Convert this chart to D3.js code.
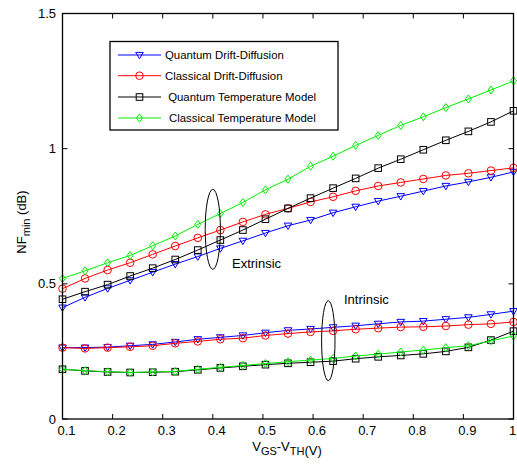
<!DOCTYPE html>
<html>
<head>
<meta charset="utf-8">
<script src="https://cdn.jsdelivr.net/npm/d3@7"></script>
<style>
  html, body { margin: 0; padding: 0; background: #fff; }
  svg { display: block; font-family: "Liberation Sans", Arial, sans-serif; }
</style>
</head>
<body>
<svg id="chart" width="517" height="465"></svg>
<script>
// Gate overdrive voltage (V), 21 bias points
const vov = d3.range(21).map(i => +(0.1 + i * 0.045).toFixed(3));

// Extrinsic minimum noise figure (dB)
const qddExt = [0.412, 0.450, 0.483, 0.513, 0.543, 0.573, 0.601, 0.631, 0.659, 0.688, 0.715,
                0.736, 0.763, 0.785, 0.806, 0.824, 0.843, 0.862, 0.877, 0.894, 0.914];
const cddExt = [0.482, 0.520, 0.551, 0.578, 0.609, 0.640, 0.670, 0.699, 0.729, 0.757, 0.779,
                0.803, 0.822, 0.844, 0.862, 0.875, 0.888, 0.901, 0.909, 0.919, 0.929];
const qtmExt = [0.443, 0.471, 0.497, 0.529, 0.558, 0.590, 0.625, 0.662, 0.699, 0.739, 0.779,
                0.817, 0.854, 0.890, 0.928, 0.961, 0.996, 1.031, 1.064, 1.099, 1.140];
const ctmExt = [0.520, 0.548, 0.578, 0.605, 0.641, 0.677, 0.720, 0.760, 0.801, 0.848, 0.887,
                0.935, 0.972, 1.012, 1.049, 1.086, 1.118, 1.152, 1.184, 1.217, 1.251];

// Intrinsic minimum noise figure (dB)
const qddInt = [0.264, 0.264, 0.266, 0.271, 0.276, 0.285, 0.295, 0.302, 0.309, 0.319, 0.328,
                0.333, 0.339, 0.345, 0.352, 0.359, 0.362, 0.369, 0.376, 0.387, 0.399];
const cddInt = [0.264, 0.261, 0.264, 0.267, 0.271, 0.280, 0.287, 0.295, 0.299, 0.309, 0.316,
                0.322, 0.326, 0.332, 0.336, 0.340, 0.341, 0.344, 0.349, 0.352, 0.359];
const qtmInt = [0.184, 0.178, 0.174, 0.172, 0.173, 0.175, 0.182, 0.189, 0.195, 0.201, 0.206,
                0.210, 0.214, 0.223, 0.230, 0.235, 0.241, 0.250, 0.265, 0.292, 0.325];
const ctmInt = [0.184, 0.179, 0.175, 0.172, 0.174, 0.176, 0.184, 0.191, 0.198, 0.205, 0.212,
                0.218, 0.224, 0.233, 0.240, 0.248, 0.255, 0.264, 0.271, 0.289, 0.307];

const seriesNames = ["Quantum Drift-Diffusion", "Classical Drift-Diffusion",
                     " Quantum Temperature Model", "Classical Temperature Model"];
const seriesColors = ["#0000ff", "#ff0000", "#000000", "#00ee00"];
const seriesSymbols = ["triangleDown", "circle", "square", "diamond"];

const xTicks = [0.1, 0.2, 0.3, 0.4, 0.5, 0.6, 0.7, 0.8, 0.9, 1];
const xTickLabels = ["0.1", "0.2", "0.3", "0.4", "0.5", "0.6", "0.7", "0.8", "0.9", "1"];
const yTicks = [0, 0.5, 1, 1.5];
const yTickLabels = ["0", "0.5", "1", "1.5"];

const svg = d3.select("#chart");
const m = { left: 62.5, right: 513.5, top: 13.5, bottom: 419 };
const x = d3.scaleLinear().domain([0.1, 1]).range([m.left, m.right]);
const y = d3.scaleLinear().domain([0, 1.5]).range([m.bottom, m.top]);

// Marker shapes
function marker(sel, kind, color) {
  if (kind === "circle") {
    sel.append("circle").attr("r", 3.8);
  } else if (kind === "square") {
    sel.append("rect").attr("x", -3.3).attr("y", -3.3).attr("width", 6.6).attr("height", 6.6);
  } else if (kind === "diamond") {
    sel.append("path").attr("d", "M0,-4 L3,0 L0,4 L-3,0 Z");
  } else {
    sel.append("path").attr("d", "M-3.8,-2.6 L3.8,-2.6 L0,3.8 Z");
  }
  sel.selectAll("*").attr("fill", "none").attr("stroke", color).attr("stroke-width", 1);
}

const line = d3.line().x((d, i) => x(vov[i])).y(d => y(d));
const groups = [
  [qddInt, cddInt, qtmInt, ctmInt],
  [qddExt, cddExt, qtmExt, ctmExt]
];

const plot = svg.append("g");
groups.forEach(set => {
  set.forEach((vals, k) => {
    const g = plot.append("g");
    g.append("path").attr("d", line(vals)).attr("fill", "none")
      .attr("stroke", seriesColors[k]).attr("stroke-width", 1);
    vals.forEach((v, i) => {
      const mk = g.append("g").attr("transform", `translate(${x(vov[i])},${y(v)})`);
      marker(mk, seriesSymbols[k], seriesColors[k]);
    });
  });
});

// Frame with inward ticks on all four sides
const axes = svg.append("g").attr("font-size", 13).attr("fill", "#000");
axes.append("rect").attr("x", m.left).attr("y", m.top)
  .attr("width", m.right - m.left).attr("height", m.bottom - m.top)
  .attr("fill", "none").attr("stroke", "#000").attr("stroke-width", 1.3);

const tl = 5;
xTicks.forEach((t, i) => {
  const px = x(t);
  axes.append("line").attr("x1", px).attr("x2", px).attr("y1", m.bottom).attr("y2", m.bottom - tl)
    .attr("stroke", "#000");
  axes.append("line").attr("x1", px).attr("x2", px).attr("y1", m.top).attr("y2", m.top + tl)
    .attr("stroke", "#000");
  // the last label is kept inside the figure edge
  const last = i === xTicks.length - 1;
  axes.append("text").attr("x", px).attr("dx", last ? -1 : 4).attr("y", m.bottom + 16)
    .attr("text-anchor", "middle").text(xTickLabels[i]);
});
yTicks.forEach((t, i) => {
  const py = y(t);
  axes.append("line").attr("x1", m.left).attr("x2", m.left + tl).attr("y1", py).attr("y2", py)
    .attr("stroke", "#000");
  axes.append("line").attr("x1", m.right).attr("x2", m.right - tl).attr("y1", py).attr("y2", py)
    .attr("stroke", "#000");
  axes.append("text").attr("x", m.left - 6.5).attr("y", py + 4.5).attr("text-anchor", "end")
    .text(yTickLabels[i]);
});

// Axis titles
const xt = axes.append("text").attr("x", 287).attr("y", 451).attr("text-anchor", "middle");
xt.append("tspan").text("V");
xt.append("tspan").attr("font-size", 11).attr("dy", 4).text("GS");
xt.append("tspan").attr("dy", -4).text("-V");
xt.append("tspan").attr("font-size", 11).attr("dy", 4).text("TH");
xt.append("tspan").attr("dy", 0).text("(V)");

const yt = axes.append("text").attr("transform", "translate(26,222) rotate(-90)")
  .attr("text-anchor", "middle");
yt.append("tspan").text("NF");
yt.append("tspan").attr("font-size", 11).attr("dy", 4).text("min");
yt.append("tspan").attr("dy", -4).text(" (dB)");

// Group annotations
const ann = svg.append("g");
ann.append("ellipse").attr("cx", 212.8).attr("cy", 229.3).attr("rx", 7.6).attr("ry", 40)
  .attr("fill", "none").attr("stroke", "#000").attr("stroke-width", 1);
ann.append("text").attr("x", 232).attr("y", 268).attr("font-size", 13).text("Extrinsic");
ann.append("ellipse").attr("cx", 328.3).attr("cy", 340.7).attr("rx", 6.7).attr("ry", 40)
  .attr("fill", "none").attr("stroke", "#000").attr("stroke-width", 1);
ann.append("text").attr("x", 344).attr("y", 304).attr("font-size", 13).text("Intrinsic");

// Legend
const lg = svg.append("g");
lg.append("rect").attr("x", 110).attr("y", 41.5).attr("width", 228).attr("height", 88.5)
  .attr("fill", "#fff").attr("stroke", "#000").attr("stroke-width", 1.3);
const rowsY = [55, 75.7, 97, 118];
const textX = [165, 165, 165, 169];
seriesNames.forEach((name, k) => {
  const ry = rowsY[k];
  lg.append("line").attr("x1", 118).attr("x2", 161).attr("y1", ry).attr("y2", ry)
    .attr("stroke", seriesColors[k]).attr("stroke-width", 1);
  const mk = lg.append("g").attr("transform", `translate(139.5,${ry})`);
  marker(mk, seriesSymbols[k], seriesColors[k]);
  lg.append("text").attr("x", textX[k]).attr("y", ry + 4).attr("font-size", 11.4)
    .attr("xml:space", "preserve").style("white-space", "pre").text(name);
});
</script>
</body>
</html>
